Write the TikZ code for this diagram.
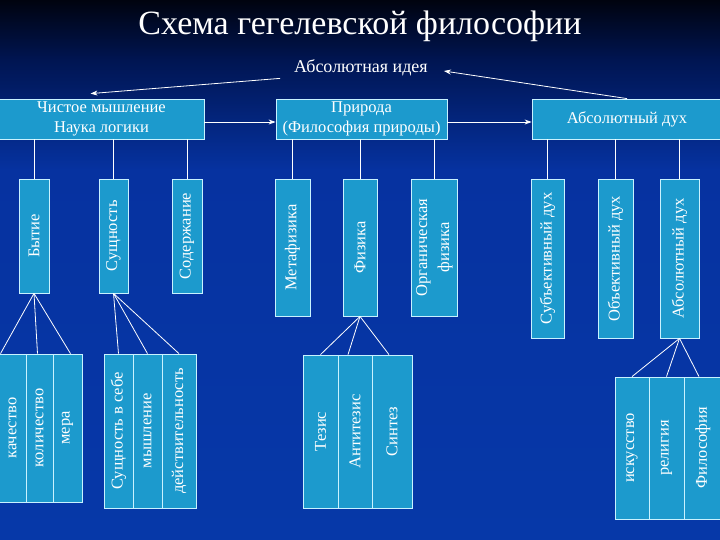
\documentclass[tikz,border=0pt]{standalone}
\usepackage{fontspec}
\usepackage{graphicx}
\setmainfont{Liberation Serif}
\usetikzlibrary{arrows.meta,calc}
\definecolor{bgtop}{HTML}{00030F}
\definecolor{bgmid}{HTML}{001552}
\definecolor{bglow}{HTML}{0632A0}
\definecolor{bgbot}{HTML}{0638A8}
\definecolor{boxfill}{HTML}{1C9ACD}
\definecolor{boxline}{HTML}{C8F2FF}
\begin{document}
\begin{tikzpicture}[x=1pt,y=-1pt,
  box/.style={draw=boxline, fill=boxfill, line width=0.8pt, inner sep=0pt, text=white,
    font=\fontsize{16.5}{20}\selectfont},
  link/.style={draw=white, line width=0.8pt},
  arr/.style={link, -{Stealth[length=7pt,width=5pt]}},
  plain/.style={text=white, inner sep=2pt}
]
\useasboundingbox (0,0) rectangle (720,540);
\shade[top color=bgtop, bottom color=bgmid] (0,0) rectangle (720,60);
\shade[top color=bgmid, bottom color=bglow] (0,60) rectangle (720,170);
\shade[top color=bglow, bottom color=bgbot] (0,170) rectangle (720,540);

% title and root
\node[plain, font=\fontsize{34}{38}\selectfont] (title) at (360,26) {Схема гегелевской философии};
\node[plain, font=\fontsize{18}{21}\selectfont] (idea) at (361,68) {Абсолютная идея};

% top level boxes
\node[box, minimum width=205pt, minimum height=40pt, align=center] (logic) at (101.5,119) {Чистое мышление\\Наука логики};
\node[box, minimum width=171pt, minimum height=40pt, align=center] (nature) at (361.5,119) {Природа\\(Философия природы)};
\node[box, minimum width=190pt, minimum height=40pt] (spirit) at (627,119) {Абсолютный дух};

% second level
\node[box, minimum width=30pt, minimum height=114pt] (bytie) at (34,236) {\rotatebox{90}{Бытие}};
\node[box, minimum width=29pt, minimum height=114pt] (sush) at (113.5,236) {\rotatebox{90}{Сущность}};
\node[box, minimum width=30pt, minimum height=114pt] (soder) at (187,236) {\rotatebox{90}{Содержание}};

\node[box, minimum width=35pt, minimum height=137pt] (metaf) at (292.5,247.5) {\rotatebox{90}{Метафизика}};
\node[box, minimum width=34pt, minimum height=137pt] (fiz) at (360,247.5) {\rotatebox{90}{Физика}};
\node[box, minimum width=46pt, minimum height=137pt] (organ) at (434,247.5) {\rotatebox{90}{\begin{tabular}{@{}c@{}}Органическая\\[2pt]физика\end{tabular}}};

\node[box, minimum width=33pt, minimum height=159pt] (subj) at (547.5,258.5) {\rotatebox{90}{Субъективный дух}};
\node[box, minimum width=35pt, minimum height=159pt] (obj) at (615.5,258.5) {\rotatebox{90}{Объективный дух}};
\node[box, minimum width=39pt, minimum height=159pt] (absd) at (679.5,258.5) {\rotatebox{90}{Абсолютный дух}};

% third level groups
\node[box, minimum width=27pt, minimum height=148pt] (kach) at (12.5,428) {\rotatebox{90}{качество}};
\node[box, minimum width=27pt, minimum height=148pt] (kol) at (39.5,428) {\rotatebox{90}{количество}};
\node[box, minimum width=29pt, minimum height=148pt] (mera) at (67.5,428) {\rotatebox{90}{мера}};

\node[box, minimum width=29pt, minimum height=154pt] (vsebe) at (118.5,431) {\rotatebox{90}{Сущность в себе}};
\node[box, minimum width=29pt, minimum height=154pt] (mysh) at (147.5,431) {\rotatebox{90}{мышление}};
\node[box, minimum width=34pt, minimum height=154pt] (deist) at (179,431) {\rotatebox{90}{действительность}};

\node[box, minimum width=35pt, minimum height=153pt] (tezis) at (320.5,431.5) {\rotatebox{90}{Тезис}};
\node[box, minimum width=34pt, minimum height=153pt] (anti) at (355,431.5) {\rotatebox{90}{Антитезис}};
\node[box, minimum width=40pt, minimum height=153pt] (sint) at (392,431.5) {\rotatebox{90}{Синтез}};

\node[box, minimum width=34pt, minimum height=142pt] (isk) at (632,448) {\rotatebox{90}{искусство}};
\node[box, minimum width=35pt, minimum height=142pt] (rel) at (666.5,448) {\rotatebox{90}{религия}};
\node[box, minimum width=38pt, minimum height=142pt] (fil) at (703,448) {\rotatebox{90}{Философия}};

% arrows
\draw[arr] ([xshift=-12pt]idea.south west) -- ([xshift=-11pt,yshift=5pt]logic.north);
\draw[arr] (spirit.north) -- ([xshift=14pt,yshift=-3pt]idea.east);
\draw[arr] ([yshift=-3pt]logic.east) -- ([yshift=-3pt]nature.west);
\draw[arr] ([yshift=-3pt]nature.east) -- ([yshift=-3pt]spirit.west);

% vertical links
\foreach \c/\p in {bytie/logic, sush/logic, soder/logic, metaf/nature, fiz/nature, organ/nature, subj/spirit, obj/spirit, absd/spirit}
  \draw[link] (\c.north) -- (\c.north |- \p.south);

% fans
\draw[link] (bytie.south) -- ([xshift=-12pt]kach.north);
\draw[link] (bytie.south) -- ([xshift=-2pt]kol.north);
\draw[link] (bytie.south) -- ([xshift=3pt]mera.north);
\draw[link] (sush.south) -- (vsebe.north);
\draw[link] (sush.south) -- (mysh.north);
\draw[link] (sush.south) -- (deist.north);
\draw[link] (fiz.south) -- (tezis.north);
\draw[link] (fiz.south) -- ([xshift=-7pt]anti.north);
\draw[link] (fiz.south) -- ([xshift=-3pt]sint.north);
\draw[link] (absd.south) -- (isk.north);
\draw[link] (absd.south) -- (rel.north);
\draw[link] (absd.south) -- ([xshift=-4pt]fil.north);
\end{tikzpicture}
\end{document}
